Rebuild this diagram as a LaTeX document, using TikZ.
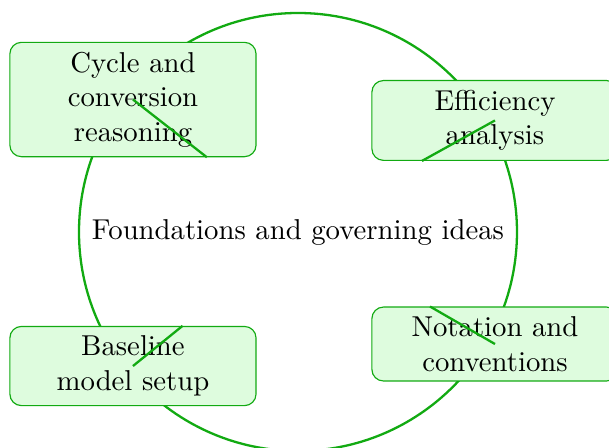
\documentclass[tikz,border=0pt]{standalone}
\usepackage{xcolor}
\usepackage{tikz}
\usetikzlibrary{positioning}
\definecolor{IdeaGreen}{HTML}{12AA12}
\definecolor{IdeaFill}{HTML}{DEFCDE}

\begin{document}
\begin{tikzpicture}[topic/.style={draw=IdeaGreen, rounded corners, align=center,
                                   minimum width=3.01cm, fill=IdeaFill},
                    spoke/.style={draw=IdeaGreen, thick}]
  \useasboundingbox (-3.644,-2.641) rectangle (3.803,2.837);
  \node (hub) at (0,0) {Foundations and governing ideas};
  \draw[spoke] (hub.center) circle (2.678cm);
  \node[topic] (cycle) at (-2.018,1.620) {Cycle and\\conversion\\reasoning};
  \node[topic] (eff) at (2.409,1.364) {Efficiency\\analysis};
  \node[topic] (base) at (-2.018,-1.639) {Baseline\\model setup};
  \node[topic] (notation) at (2.409,-1.370) {Notation and\\conventions};
  \draw[spoke] (cycle.center) -- (cycle.-38.75);
  \draw[spoke] (eff.center) -- (eff.209.5);
  \draw[spoke] (base.center) -- (base.39.1);
  \draw[spoke] (notation.center) -- (notation.150.4);
\end{tikzpicture}
\end{document}
